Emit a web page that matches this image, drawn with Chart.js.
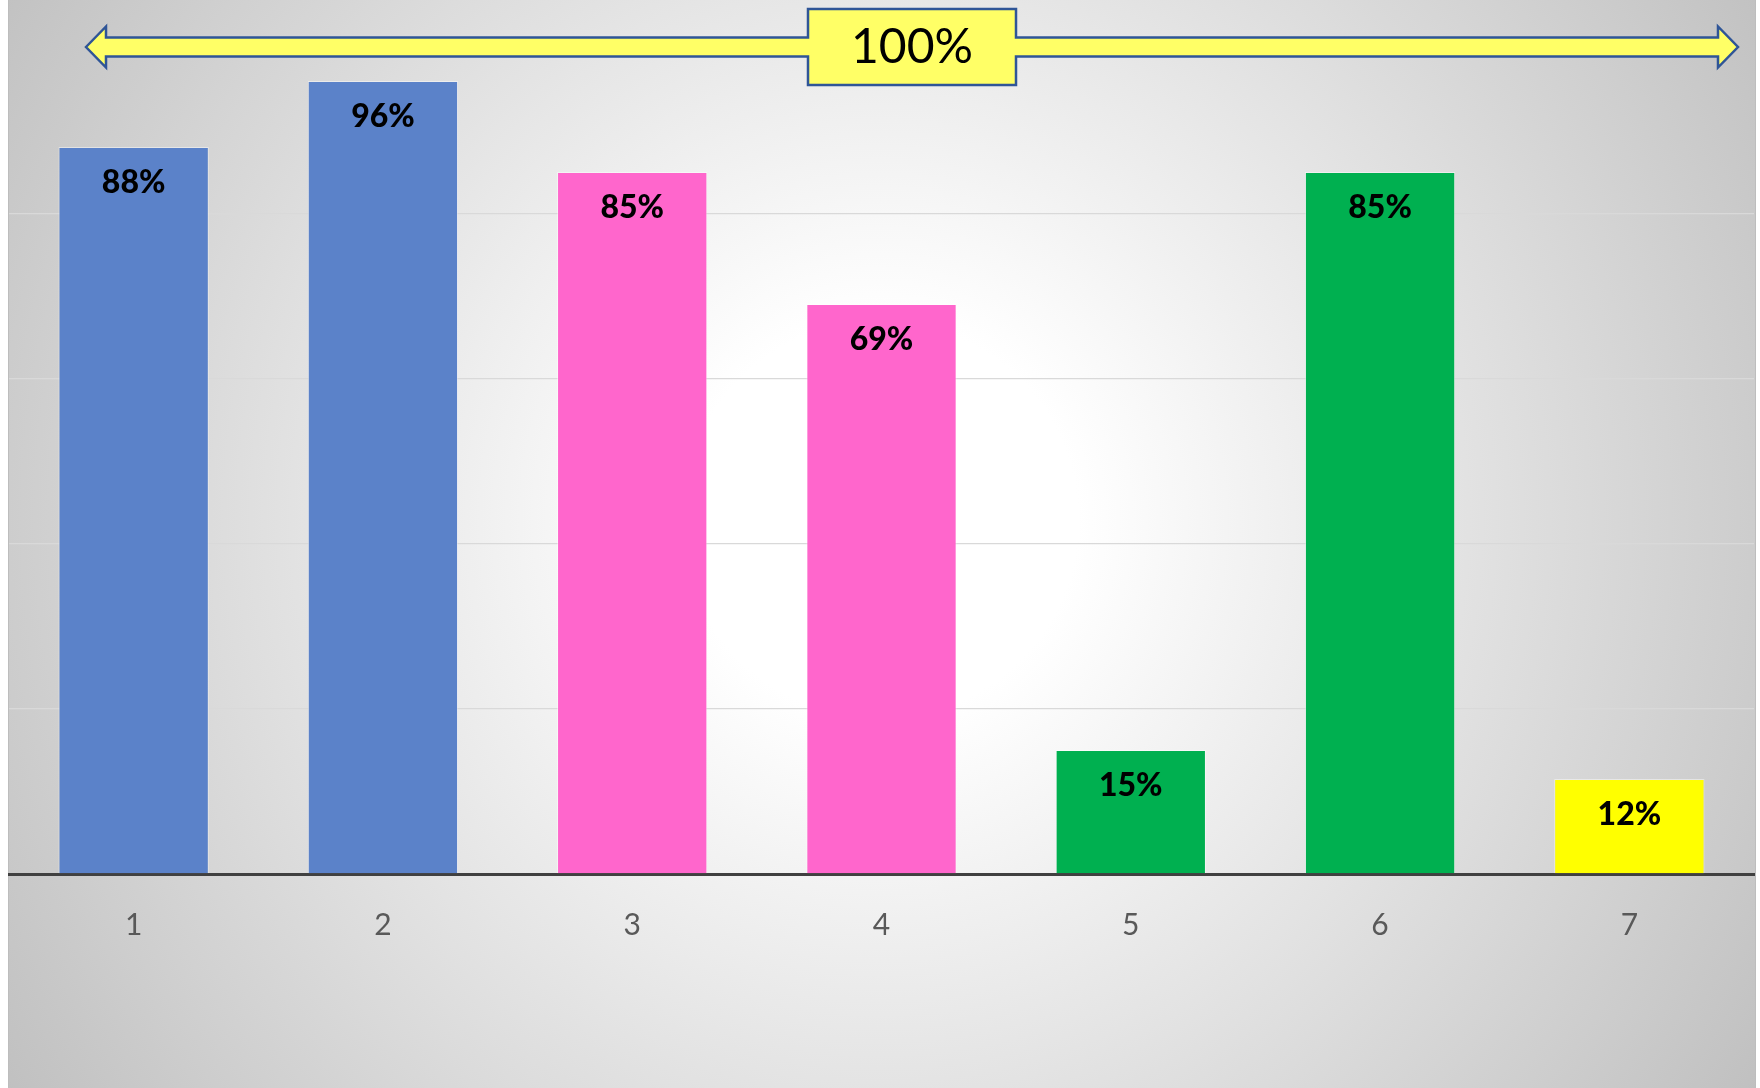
<!DOCTYPE html>
<html>
<head>
<meta charset="utf-8">
<script src="https://cdn.jsdelivr.net/npm/chart.js@4.4.1/dist/chart.umd.min.js"></script>
<style>
  html, body { margin: 0; padding: 0; background: #ffffff; }
  #wrap { width: 1760px; height: 1088px; position: relative; }
</style>
</head>
<body>
<div id="wrap"><canvas id="chart" width="1760" height="1088"></canvas></div>
<script>
'use strict';

/* ─── DATA ───────────────────────────────────────────────── */
const categories = ['1', '2', '3', '4', '5', '6', '7'];
const values     = [0.88, 0.96, 0.85, 0.69, 0.15, 0.85, 0.115];
const labels     = ['88%', '96%', '85%', '69%', '15%', '85%', '12%'];
const barColors  = ['#5B82C9', '#5B82C9', '#FF66CC', '#FF66CC', '#00B050', '#00B050', '#FFFF00'];
const targetValue = 1.0;
const targetLabel = '100%';

/* ─── PLUGINS ────────────────────────────────────────────── */
const backgroundPlugin = {
  id: 'bgGradient',
  beforeDraw(chart) {
    const { ctx } = chart;
    ctx.save();
    ctx.fillStyle = '#ffffff';
    ctx.fillRect(0, 0, chart.width, chart.height);
    const g = ctx.createRadialGradient(880, 520, 0, 880, 520, 1100);
    g.addColorStop(0, '#ffffff');
    g.addColorStop(0.18, '#ffffff');
    g.addColorStop(1, '#bcbcbc');
    ctx.fillStyle = g;
    ctx.fillRect(8, 0, 1747, chart.height);
    ctx.strokeStyle = '#bdbdbd';
    ctx.lineWidth = 1;
    ctx.beginPath();
    ctx.moveTo(8.5, 0); ctx.lineTo(8.5, chart.height);
    ctx.moveTo(1755.5, 0); ctx.lineTo(1755.5, chart.height);
    ctx.stroke();
    ctx.restore();
  },
};

const barLabelPlugin = {
  id: 'barLabels',
  afterDatasetsDraw(chart) {
    const { ctx } = chart;
    const meta = chart.getDatasetMeta(0);
    ctx.save();
    ctx.font = '900 32px Lato';
    ctx.fillStyle = '#000000';
    ctx.textAlign = 'center';
    ctx.textBaseline = 'middle';
    meta.data.forEach((bar, i) => {
      ctx.fillText(labels[i], bar.x, bar.y + 36);
    });
    ctx.restore();
  },
};

// double arrow with the target box at the 100% level
const targetArrowPlugin = {
  id: 'targetArrow',
  afterDraw(chart) {
    const { ctx, chartArea } = chart;
    const cy = chart.scales.y.getPixelForValue(targetValue) - 1;
    const l = chartArea.left + 77, r = chartArea.right - 16;
    const head = 20, half = 20.5, shaft = 9.5;
    const bx0 = chartArea.left + 799, bx1 = chartArea.left + 1007;
    const bTop = cy - 38, bBot = cy + 38;

    ctx.save();
    ctx.beginPath();
    ctx.moveTo(l, cy);
    ctx.lineTo(l + head, cy - half);
    ctx.lineTo(l + head, cy - shaft);
    ctx.lineTo(bx0, cy - shaft);
    ctx.lineTo(bx0, bTop);
    ctx.lineTo(bx1, bTop);
    ctx.lineTo(bx1, cy - shaft);
    ctx.lineTo(r - head, cy - shaft);
    ctx.lineTo(r - head, cy - half);
    ctx.lineTo(r, cy);
    ctx.lineTo(r - head, cy + half);
    ctx.lineTo(r - head, cy + shaft);
    ctx.lineTo(bx1, cy + shaft);
    ctx.lineTo(bx1, bBot);
    ctx.lineTo(bx0, bBot);
    ctx.lineTo(bx0, cy + shaft);
    ctx.lineTo(l + head, cy + shaft);
    ctx.lineTo(l + head, cy + half);
    ctx.closePath();
    ctx.fillStyle = '#FFFF66';
    ctx.fill();
    ctx.strokeStyle = '#2F5597';
    ctx.lineWidth = 2.5;
    ctx.lineJoin = 'miter';
    ctx.stroke();

    ctx.font = '48px Lato';
    ctx.fillStyle = '#000000';
    ctx.textAlign = 'center';
    ctx.textBaseline = 'middle';
    ctx.fillText(targetLabel, (bx0 + bx1) / 2, cy + 1);
    ctx.restore();
  },
};

/* ─── CHART ──────────────────────────────────────────────── */
new Chart(document.getElementById('chart').getContext('2d'), {
  type: 'bar',
  data: {
    labels: categories,
    datasets: [{
      data: values,
      backgroundColor: barColors,
      borderColor: 'rgba(255,255,255,0.45)',
      borderWidth: 1,
      barPercentage: 0.603,
      categoryPercentage: 1.0,
    }],
  },
  options: {
    responsive: false,
    animation: false,
    devicePixelRatio: 1,
    layout: { padding: { left: 9, right: 6, top: 48, bottom: 0 } },
    plugins: {
      legend: { display: false },
      tooltip: { enabled: false },
    },
    scales: {
      x: {
        grid: { display: false, drawTicks: false },
        border: { color: '#404040', width: 3 },
        ticks: { color: '#595959', font: { family: 'Lato', size: 30 }, padding: 33 },
        afterFit: s => { s.height = 214; },
      },
      y: {
        min: 0,
        max: 1,
        ticks: { display: false, stepSize: 0.2 },
        grid: {
          color: c => (c.tick && c.tick.value >= 1 ? 'rgba(0,0,0,0)' : '#d9d9d9'),
          lineWidth: 1.3,
          drawTicks: false,
        },
        border: { display: false },
        afterFit: s => { s.width = 0; },
      },
    },
  },
  plugins: [backgroundPlugin, barLabelPlugin, targetArrowPlugin],
});
</script>
</body>
</html>
